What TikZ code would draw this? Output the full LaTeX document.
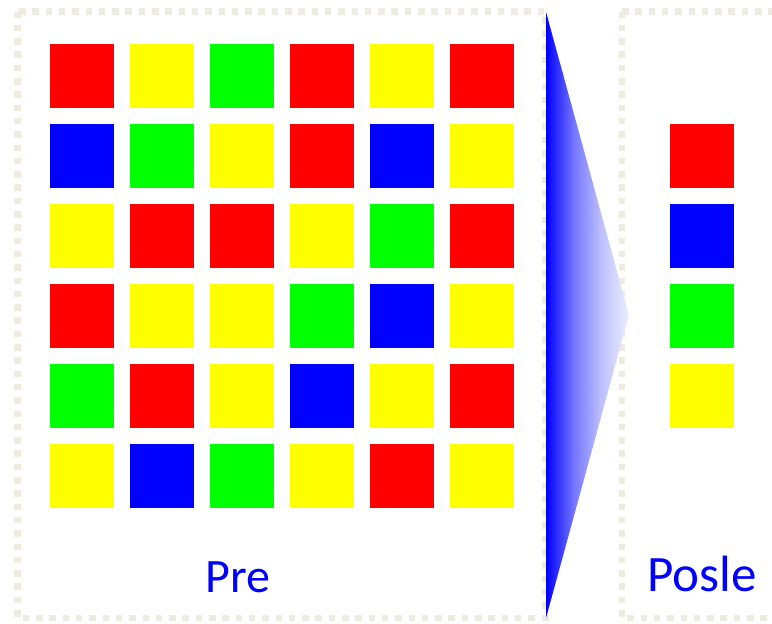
\documentclass[tikz,border=0pt]{standalone}
\usepackage{fontspec}
\setmainfont{Carlito}
\definecolor{dotgray}{RGB}{238,236,225}
\definecolor{sqred}{RGB}{255,0,0}
\definecolor{sqyel}{RGB}{255,255,0}
\definecolor{sqgrn}{RGB}{0,255,0}
\definecolor{sqblu}{RGB}{0,0,255}
\definecolor{paleblue}{RGB}{236,239,251}
\pgfdeclarehorizontalshading{arrowfade}{100bp}{color(0bp)=(sqblu); color(25bp)=(sqblu); color(42bp)=(sqblu!50!paleblue); color(58bp)=(sqblu!20!paleblue); color(75bp)=(paleblue); color(100bp)=(paleblue)}
\begin{document}
\begin{tikzpicture}[x=1pt,y=-1pt,
  sq/.style={minimum size=64pt,inner sep=0pt,outer sep=0pt,draw=none,fill=#1},
  frame/.style={draw=dotgray,line width=6.5pt,dash pattern=on 6.5pt off 6.8pt},
  lbl/.style={text=sqblu,anchor=base,inner sep=0pt}]
\useasboundingbox (0,0) rectangle (772,624);
\begin{scope}
\clip (0,0) rectangle (772,624);
\draw[frame] (17.5,11.5) rectangle (545.5,618);
\draw[frame] (622,11.5) -- (622,618) -- (800,618);
\draw[frame] (622,11.5) -- (800,11.5);
\end{scope}
% grid
\foreach \row/\cols in {1/{sqred,sqyel,sqgrn,sqred,sqyel,sqred},
                        2/{sqblu,sqgrn,sqyel,sqred,sqblu,sqyel},
                        3/{sqyel,sqred,sqred,sqyel,sqgrn,sqred},
                        4/{sqred,sqyel,sqyel,sqgrn,sqblu,sqyel},
                        5/{sqgrn,sqred,sqyel,sqblu,sqyel,sqred},
                        6/{sqyel,sqblu,sqgrn,sqyel,sqred,sqyel}}{
  \foreach \c [count=\col] in \cols {
    \node[sq=\c] (s\row-\col) at ({82+80*(\col-1)},{76+80*(\row-1)}) {};
  }
}
% result column
\node[sq=sqred] (r1) at (702,156) {};
\node[sq=sqblu] (r2) at (702,236) {};
\node[sq=sqgrn] (r3) at (702,316) {};
\node[sq=sqyel] (r4) at (702,396) {};
% arrow
\shade[shading=arrowfade] (546,12) -- (629,315) -- (546,618) -- cycle;
% labels
\node[lbl,font=\fontsize{48}{48}\selectfont] (pre) at (238,592) {Pre};
\node[lbl,font=\fontsize{51}{51}\selectfont] (posle) at (702,591) {Posle};
\end{tikzpicture}
\end{document}
